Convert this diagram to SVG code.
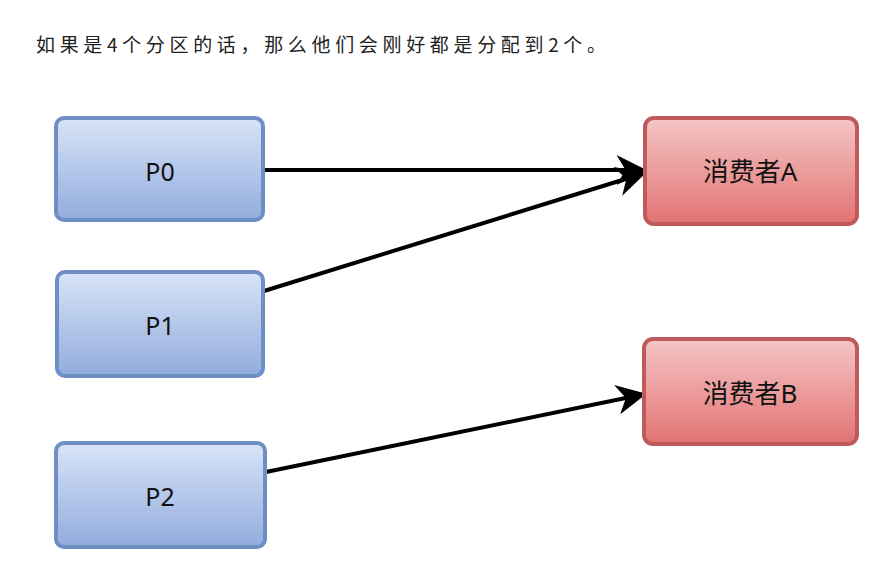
<svg xmlns="http://www.w3.org/2000/svg" width="870" height="581" viewBox="0 0 870 581">
<defs>
<linearGradient id="gBlue" x1="0" y1="0" x2="0" y2="1">
<stop offset="0" stop-color="#d8e4f8"/>
<stop offset="1" stop-color="#92acdd"/>
</linearGradient>
<linearGradient id="gRed" x1="0" y1="0" x2="0" y2="1">
<stop offset="0" stop-color="#f5c6c6"/>
<stop offset="1" stop-color="#e27272"/>
</linearGradient>
<marker id="arr" viewBox="0 0 10 10" refX="9.5" refY="5" markerWidth="7.5" markerHeight="7.5" markerUnits="strokeWidth" orient="auto">
<path d="M0,0 L10,5 L0,10 L3,5 Z" fill="#000"/>
</marker>
<style>
.title{font-family:"Noto Sans CJK SC","Noto Sans",sans-serif;font-size:19px;fill:#222}
.blue{fill:url(#gBlue);stroke:#6e8fc4;stroke-width:4}
.red{fill:url(#gRed);stroke:#c0595a;stroke-width:4}
.lbl{font-family:"Noto Sans","Noto Sans CJK SC",sans-serif;font-size:25px;fill:#111;text-anchor:middle;dominant-baseline:central}
.zh{font-size:26px}
.conn{stroke:#000;stroke-width:4;fill:none;marker-end:url(#arr)}
</style>
</defs>
<rect width="870" height="581" fill="#fff"/>
<text class="title" x="36" y="52" textLength="570" lengthAdjust="spacing">如果是4个分区的话，那么他们会刚好都是分配到2个。</text>
<g id="connectors">
<line class="conn" x1="264" y1="170" x2="645" y2="170"/>
<line class="conn" x1="264" y1="291" x2="645" y2="173"/>
<line class="conn" x1="266" y1="472" x2="645" y2="394"/>
</g>
<g id="P0">
<rect class="blue" x="56" y="118" width="207" height="102" rx="8"/>
<text class="lbl" x="160" y="171">P0</text>
</g>
<g id="P1">
<rect class="blue" x="57" y="272" width="206" height="104" rx="8"/>
<text class="lbl" x="160" y="325">P1</text>
</g>
<g id="P2">
<rect class="blue" x="56" y="443" width="209" height="104" rx="8"/>
<text class="lbl" x="160" y="496">P2</text>
</g>
<g id="consumerA">
<rect class="red" x="645" y="118" width="212" height="106" rx="9"/>
<text class="lbl zh" x="750" y="171">消费者A</text>
</g>
<g id="consumerB">
<rect class="red" x="644" y="339" width="213" height="105" rx="9"/>
<text class="lbl zh" x="750" y="393">消费者B</text>
</g>
</svg>
